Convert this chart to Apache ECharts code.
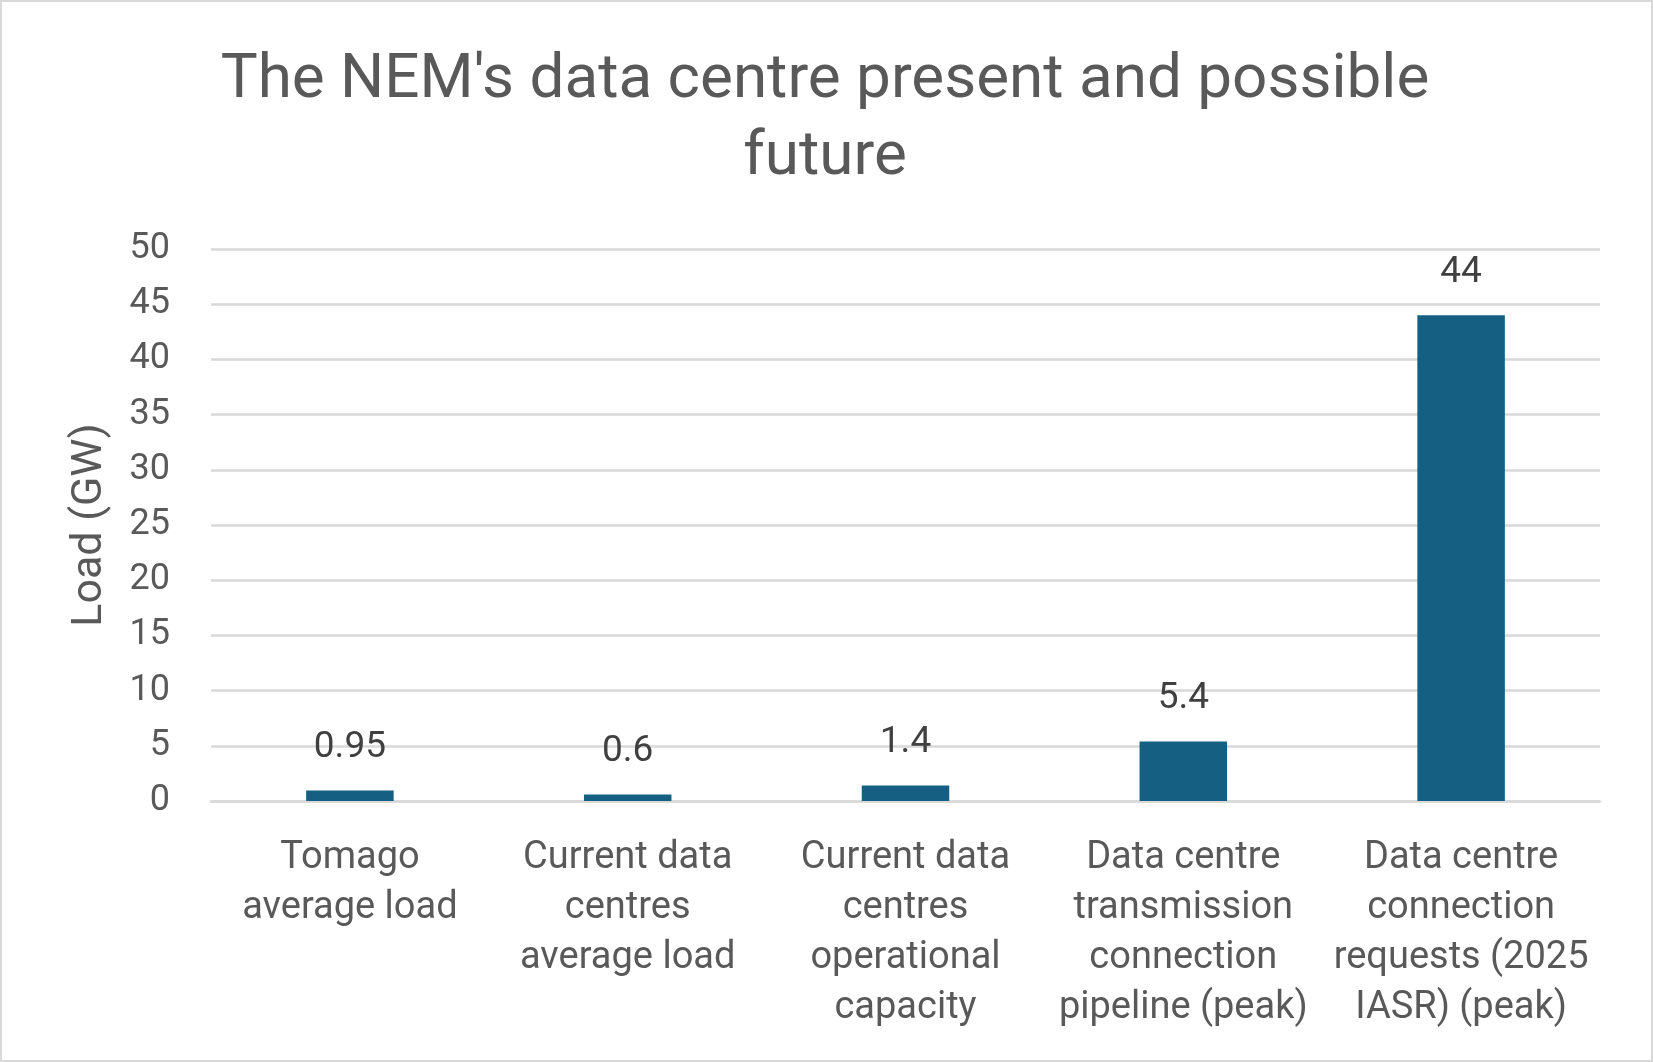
<!DOCTYPE html>
<html>
<head>
<meta charset="utf-8">
<script src="https://cdn.jsdelivr.net/npm/echarts@6/dist/echarts.min.js"></script>
<style>
    html, body { margin: 0; padding: 0; background: #fff; }
    #main { width: 1653px; height: 1062px; }
</style>
</head>
<body>
<div id="main"></div>
<script>
// chart data
const categories = [
    'Tomago\naverage load',
    'Current data\ncentres\naverage load',
    'Current data\ncentres\noperational\ncapacity',
    'Data centre\ntransmission\nconnection\npipeline (peak)',
    'Data centre\nconnection\nrequests (2025\nIASR) (peak)'
];
const loadValues = [0.95, 0.6, 1.4, 5.4, 44];
const titleText = "The NEM's data centre present and possible\nfuture";
const yAxisName = 'Load (GW)';

const font = 'Roboto';
let myChart = echarts.init(document.getElementById('main'));
myChart.setOption({
    animation: false,
    textStyle: { fontFamily: font },
    graphic: [{
        type: 'rect',
        shape: { x: 1, y: 1, width: 1651, height: 1060 },
        style: { fill: 'none', stroke: '#d9d9d9', lineWidth: 2 }
    }],
    title: {
        text: titleText,
        left: 820,
        top: 38,
        textAlign: 'center',
        textStyle: {
            fontFamily: font,
            fontSize: 62,
            fontWeight: 'normal',
            color: '#595959',
            lineHeight: 77
        }
    },
    grid: { left: 211, right: 53, top: 249, bottom: 261 },
    xAxis: {
        type: 'category',
        data: categories,
        axisLine: { lineStyle: { color: '#d9d9d9', width: 2.5 } },
        axisTick: { show: false },
        axisLabel: {
            interval: 0,
            margin: 32,
            fontSize: 38,
            lineHeight: 50,
            color: '#595959',
            fontFamily: font
        }
    },
    yAxis: {
        type: 'value',
        min: 0,
        max: 50,
        interval: 5,
        name: yAxisName,
        nameLocation: 'middle',
        nameGap: 99,
        nameTextStyle: { fontSize: 43, color: '#595959', fontFamily: font },
        axisLine: { show: false },
        axisTick: { show: false },
        axisLabel: { fontSize: 36, color: '#595959', margin: 41, fontFamily: font },
        splitLine: { lineStyle: { color: '#d9d9d9', width: 2.5 } }
    },
    series: [{
        type: 'bar',
        data: loadValues,
        barWidth: '31.5%',
        itemStyle: { color: '#156082' },
        label: {
            show: true,
            position: 'top',
            distance: 24,
            fontSize: 37,
            color: '#404040',
            fontFamily: font
        }
    }]
});
</script>
</body>
</html>
